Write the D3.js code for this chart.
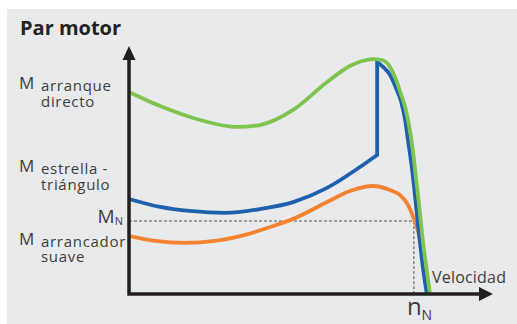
<!DOCTYPE html>
<html><head><meta charset="utf-8">
<script src="https://cdn.jsdelivr.net/npm/d3@7"></script>
<style>
body{margin:0;background:#fff;}
svg{display:block;}
text{font-family:"Open Sans",sans-serif;}
</style>
</head><body>
<svg id="c" width="517" height="324"></svg>
<script>
// speed (0-100) vs torque (0-100)
const arranqueDirecto = [[0,84.2],[8.9,78.3],[20.3,72.5],[30.9,69.6],[37.4,70.4],[46.9,76.7],[56.6,88.3],[63.1,95],[66.6,97.1],[69.7,97.9],[72.3,97.5],[74.6,94.6],[76.3,89.2],[77.7,83.3],[78.9,77.8],[80,70.4],[81.1,60],[82,48.3],[83.1,34.2],[84,21.7],[84.9,11.7],[86,0]];
const estrellaLow = [[0,39.6],[8.9,36.3],[17.4,34.6],[27.4,33.8],[37.4,35.4],[46.9,38.3],[56.6,44.2],[66,52.9],[70.9,57.9]];
const estrellaHigh = [[70.9,96.7],[72.6,94.6],[74.6,91.2],[76.3,85.8],[77.7,80.4],[78.9,72.5],[79.7,64.2],[80.9,51.7],[82,37.1],[82.9,24.6],[83.7,14.2],[85.1,0]];
const arrancadorSuave = [[0,24.2],[7.4,22.1],[16,21.3],[24.6,22.1],[33.1,24.6],[40.3,27.9],[46.9,31.3],[56.6,38.3],[63.1,42.9],[69.7,45],[74.6,43.3],[77.4,41.3],[79.7,37.1],[81.1,32.5],[82.3,27.5],[83.1,23.3]];
const nominalTorque = 30.4;
const nominalSpeed = 81.4;
const title = "Par motor";
const xLabel = "Velocidad";
const leftLabels = [
  {m:"M", lines:["arranque","directo"], y:89, gap:16},
  {m:"M", lines:["estrella -","triángulo"], y:172, gap:16},
  {m:"M", lines:["arrancador","suave"], y:245, gap:15}
];

const svg = d3.select("#c");
const W = 517, H = 324;
svg.append("rect").attr("x",7).attr("y",9).attr("width",W-7).attr("height",H-9).attr("fill","#e9eaec");

const x = d3.scaleLinear().domain([0,100]).range([129,479]);
const y = d3.scaleLinear().domain([0,100]).range([294,54]);

const line = d3.line().x(d=>x(d[0])).y(d=>y(d[1])).curve(d3.curveMonotoneX);

// dashed guides
svg.append("path")
  .attr("d", `M${x(0)},${y(nominalTorque)}H${x(nominalSpeed)}V${y(0)}`)
  .attr("fill","none").attr("stroke","#555").attr("stroke-width",1).attr("stroke-dasharray","3,2");

const sw = 3.8;
svg.append("path").attr("d", line(arrancadorSuave))
  .attr("fill","none").attr("stroke","#f5822f").attr("stroke-width",sw).attr("stroke-linejoin","round");
svg.append("path").attr("d", line(estrellaLow) + line(estrellaHigh).replace(/^M/,"L"))
  .attr("fill","none").attr("stroke","#1e60ad").attr("stroke-width",sw).attr("stroke-linejoin","miter");
svg.append("path").attr("d", line(arranqueDirecto))
  .attr("fill","none").attr("stroke","#7ec44f").attr("stroke-width",sw).attr("stroke-linejoin","round");

// axes
const ax = "#231f20";
svg.append("path").attr("d", `M${x(0)},58V${y(0)}H482`)
  .attr("fill","none").attr("stroke",ax).attr("stroke-width",3.5).attr("stroke-linejoin","miter");
svg.append("path").attr("d", `M${x(0)},46L${x(0)+6.5},60L${x(0)-6.5},60Z`).attr("fill",ax);
svg.append("path").attr("d", `M493,${y(0)}L479,${y(0)-7}L479,${y(0)+7}Z`).attr("fill",ax);

// texts
svg.append("text").attr("x",20).attr("y",35).attr("font-size",20).attr("font-weight","bold").attr("fill","#222").text(title);

const lc = "#3d3d3d";
leftLabels.forEach(l=>{
  const t = svg.append("text").attr("x",19).attr("y",l.y).attr("fill",lc);
  t.append("tspan").attr("font-size",17).text(l.m);
  l.lines.forEach((s,i)=>{
    t.append("tspan").attr("x",41).attr("y",l.y+2+i*l.gap).attr("font-size",15).attr("letter-spacing",0.7).text(s);
  });
});

const mn = svg.append("text").attr("x",123).attr("y",y(nominalTorque)+2).attr("text-anchor","end").attr("fill",lc);
mn.append("tspan").attr("font-size",19).text("M");
mn.append("tspan").attr("font-size",11).attr("dy",2).text("N");

const nn = svg.append("text").attr("x",x(nominalSpeed)-7).attr("y",315).attr("fill",lc);
nn.append("tspan").attr("font-size",24).text("n");
nn.append("tspan").attr("font-size",14).attr("dy",5).text("N");

svg.append("text").attr("x",432).attr("y",283).attr("font-size",16).attr("letter-spacing",0.2).attr("fill",lc).text(xLabel);
</script>
</body></html>
